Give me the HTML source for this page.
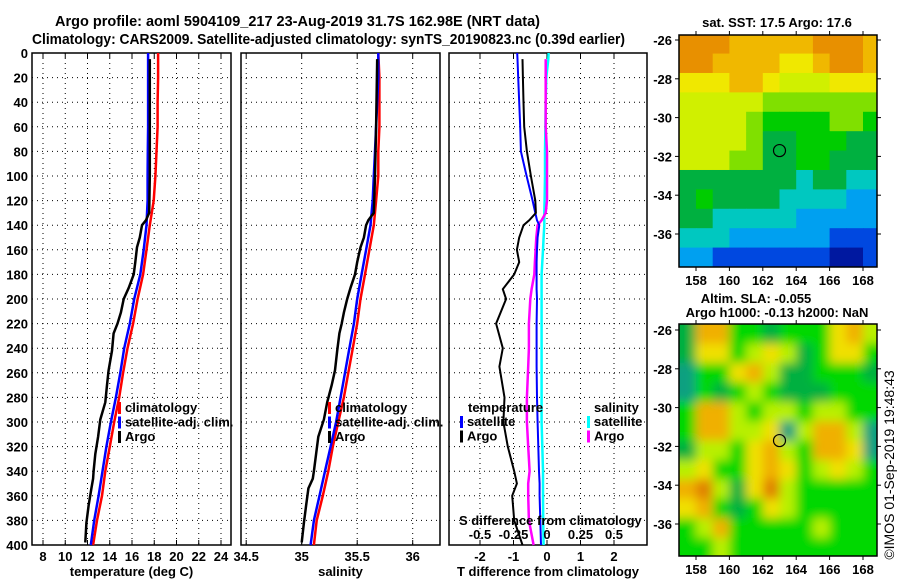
<!DOCTYPE html>
<html><head><meta charset="utf-8"><style>
html,body{margin:0;padding:0;background:#fff}
svg{display:block;font-family:"Liberation Sans",sans-serif}
</style></head><body>
<svg id="root" width="900" height="580" viewBox="0 0 900 580" xmlns="http://www.w3.org/2000/svg">
<defs>
<filter id="blur" x="-5%" y="-5%" width="110%" height="110%"><feGaussianBlur stdDeviation="5"/></filter>
<clipPath id="slaClip"><rect x="679" y="324" width="198" height="232"/></clipPath>
</defs>
<text x="55" y="26" font-size="15" font-weight="bold" textLength="485" lengthAdjust="spacingAndGlyphs">Argo profile: aoml 5904109_217 23-Aug-2019 31.7S 162.98E (NRT data)</text>
<text x="32" y="44" font-size="15" font-weight="bold" textLength="593" lengthAdjust="spacingAndGlyphs">Climatology: CARS2009. Satellite-adjusted climatology: synTS_20190823.nc (0.39d earlier)</text>
<g id="g"></g>
</svg>
<script>
// ---------- data ----------
const depthTicks=[0,20,40,60,80,100,120,140,160,180,200,220,240,260,280,300,320,340,360,380,400];
const tempTicks=[8,10,12,14,16,18,20,22,24];
const salTicks=[34.5,35,35.5,36];
const salTickLabels=['34.5','35','35.5','36'];
const tdiffTicks=[-2,-1,0,1,2];
const sdiffTicks=[-0.5,-0.25,0,0.25,0.5];
const sdiffTickLabels=['-0.5','-0.25','0','0.25','0.5'];

const climDepth=[0,20,40,60,80,100,120,140,160,180,200,220,240,260,280,300,320,340,360,380,400];
const tempClim=[18.35,18.35,18.3,18.3,18.2,18.1,17.95,17.6,17.3,17.0,16.5,16.1,15.6,15.2,14.85,14.4,14.0,13.6,13.3,12.85,12.5];
const tempSat=[17.45,17.45,17.45,17.45,17.42,17.4,17.4,17.3,17.05,16.75,16.2,15.8,15.3,14.95,14.55,14.1,13.7,13.35,13.0,12.6,12.3];
const salClim=[35.69,35.7,35.7,35.7,35.69,35.69,35.67,35.65,35.61,35.57,35.53,35.5,35.46,35.42,35.38,35.33,35.28,35.24,35.19,35.135,35.11];
const salSat=[35.69,35.69,35.68,35.67,35.66,35.65,35.64,35.62,35.58,35.54,35.5,35.47,35.43,35.39,35.35,35.31,35.26,35.21,35.16,35.11,35.08];

const argoDepth=[5,60,100,130,136,140,150,158,170,180,191,200,211,220,228,242,258,270,284,298,312,326,340,346,354,368,382,398];
const tempArgo=[17.6,17.6,17.6,17.55,17.25,16.9,16.7,16.45,16.3,16.15,15.7,15.25,15.0,14.7,14.35,14.2,13.9,13.75,13.6,13.15,12.95,12.7,12.55,12.5,12.35,12.1,11.9,11.8];
const salArgo=[35.68,35.67,35.66,35.65,35.6,35.58,35.56,35.53,35.5,35.48,35.44,35.41,35.38,35.36,35.34,35.32,35.3,35.27,35.23,35.2,35.15,35.13,35.11,35.1,35.06,35.04,35.02,35.0];

const diffDepth=[0,5,20,40,60,80,100,120,130,136,140,150,160,170,180,192,200,220,240,255,280,300,320,340,350,360,380,400];
const tdiffSat=[-0.89,-0.88,-0.86,-0.83,-0.8,-0.78,-0.61,-0.43,-0.35,-0.3,-0.23,-0.28,-0.3,-0.31,-0.31,-0.31,-0.3,-0.31,-0.31,-0.31,-0.3,-0.28,-0.26,-0.24,-0.22,-0.22,-0.2,-0.18];
const tdiffArgo=[null,-0.73,-0.72,-0.7,-0.68,-0.6,-0.48,-0.35,-0.33,-0.53,-0.7,-0.83,-0.9,-0.83,-0.98,-1.32,-1.22,-1.52,-1.32,-1.42,-1.27,-1.3,-1.17,-0.98,-0.9,-1.04,-0.98,-0.73];
const sdiffSat=[0.012,0.01,-0.005,-0.01,-0.012,-0.015,-0.015,-0.018,-0.02,-0.02,-0.02,-0.025,-0.03,-0.035,-0.04,-0.04,-0.04,-0.04,-0.04,-0.04,-0.04,-0.04,-0.035,-0.03,-0.03,-0.03,-0.028,-0.025];
const sdiffArgo=[null,-0.01,-0.01,-0.01,-0.01,0.0,0.0,0.0,-0.01,-0.04,-0.07,-0.08,-0.085,-0.09,-0.095,-0.115,-0.125,-0.135,-0.135,-0.14,-0.15,-0.15,-0.14,-0.13,-0.14,-0.14,-0.135,-0.1];

// maps
const lonTicks=[158,160,162,164,166,168];
const latTicks=[-26,-28,-30,-32,-34,-36];
const sstGrid=[
[10,10,10,9,9,9,9,9,10,10,10,9],
[10,10,9,9,9,9,8,8,9,10,10,9],
[8,8,8,9,9,8,7,7,7,8,8,8],
[7,7,7,7,7,6,6,6,6,6,6,6],
[7,7,7,7,6,5,5,5,5,6,6,5],
[7,7,7,7,6,4,4,5,5,5,4,4],
[7,7,7,6,6,4,4,5,5,4,4,4],
[4,4,4,4,4,4,4,3,4,4,3,3],
[4,5,4,4,4,4,3,3,3,3,2,2],
[4,4,3,3,3,3,3,2,2,2,2,2],
[3,3,3,2,2,2,2,2,2,1,1,1],
[2,2,1,1,1,1,1,1,1,0,0,1]];
const slaGrid=[
[1,5,5,2,2,1,2,2,2,4,5,3],
[1,4,4,2,3,4,3,1,2,4,4,2],
[0,2,2,4,5,3,1,1,2,2,2,1],
[0,2,1,2,3,2,1,1,1,2,2,2],
[2,5,5,3,2,3,3,2,3,3,2,2],
[2,5,5,3,3,4,0,3,5,5,3,0],
[1,3,3,2,4,5,3,2,5,5,4,0],
[3,4,2,2,4,5,4,2,3,4,3,2],
[5,6,3,1,4,6,3,2,2,2,2,2],
[4,5,2,1,2,4,3,2,2,2,2,2],
[2,3,5,2,2,2,2,2,3,2,2,2],
[2,2,3,2,2,2,2,2,2,2,2,2]];
const argoLon=163, argoLat=-31.7;

// ---------- drawing ----------
const NS='http://www.w3.org/2000/svg';
const G=document.getElementById('g');
function el(tag,attrs,parent,txt){const e=document.createElementNS(NS,tag);for(const k in attrs)e.setAttribute(k,attrs[k]);if(txt!==undefined)e.textContent=txt;(parent||G).appendChild(e);return e;}
const Y0=53,Y1=545;
const yD=d=>Y0+(d/400)*(Y1-Y0);
function lin(d0,d1,r0,r1){return v=>r0+(v-d0)/(d1-d0)*(r1-r0);}

function panel(name,x0,x1,xs,ticks,labels,xlabel){
  const g=el('g',{},G);
  
  
  ticks.forEach((t,i)=>{
    const x=xs(t);
    const gl=el('line',{x1:x,x2:x,y1:Y0,y2:Y1,stroke:'#000','stroke-width':1,'stroke-dasharray':'1,4'},g);
    
    
    if(labels){
      const tl=el('text',{x:x,y:Y1+16,'font-size':13,'font-weight':'bold','text-anchor':'middle'},g,labels[i]);
      
      
    }
    el('line',{x1:x,x2:x,y1:Y0,y2:Y0+5,stroke:'#000'},g);
    el('line',{x1:x,x2:x,y1:Y1,y2:Y1-5,stroke:'#000'},g);
  });
  depthTicks.forEach(d=>{
    if(d===0||d===400)return;
    const y=yD(d);
    const gl=el('line',{x1:x0,x2:x1,y1:y,y2:y,stroke:'#000','stroke-width':1,'stroke-dasharray':'1,4'},g);
    
    
  });
  const fr=el('rect',{x:x0,y:Y0,width:x1-x0,height:Y1-Y0,fill:'none',stroke:'#000','stroke-width':1.5},g);
  
  
  if(xlabel){
    const xl=el('text',{x:(x0+x1)/2,y:576,'font-size':13,'font-weight':'bold','text-anchor':'middle'},g,xlabel);
    
    
  }
  return g;
}
function series(g,name,xs,vals,depths,color,w){
  const pts=[];
  vals.forEach((v,i)=>{if(v!==null)pts.push(xs(v).toFixed(1)+','+yD(depths[i]).toFixed(1));});
  const p=el('polyline',{points:pts.join(' '),fill:'none',stroke:color,'stroke-width':w||2.5},g);
  
  
}
function legend(g,x,y,items){
  items.forEach((it,i)=>{
    const yy=y+i*14.5;
    const m=el('rect',{x:x,y:yy-10,width:3,height:12,fill:it[1]},g);
    
    
    const t=el('text',{x:x+7,y:yy,'font-size':13,'font-weight':'bold'},g,it[0]);
    
    
  });
}

// Panel 1: temperature
const xT=lin(8,24,43,221);
const p1=panel('temperature-panel',32,231,xT,tempTicks,tempTicks.map(String),'temperature (deg C)');
depthTicks.forEach(d=>{
  const t=el('text',{x:28,y:yD(d)+5,'font-size':13,'font-weight':'bold','text-anchor':'end'},G,String(d));
  
  
});
series(p1,'temp-climatology-line',xT,tempClim,climDepth,'#f00');
series(p1,'temp-satellite-line',xT,tempSat,climDepth,'#00f');
series(p1,'temp-argo-line',xT,tempArgo,argoDepth,'#000');
legend(p1,118,412,[['climatology','#f00'],['satellite-adj. clim.','#00f'],['Argo','#000']]);

// Panel 2: salinity
const xS=lin(35,36,301.7,412.7);
const p2=panel('salinity-panel',241,440,xS,salTicks,salTickLabels,'salinity');
series(p2,'sal-climatology-line',xS,salClim,climDepth,'#f00');
series(p2,'sal-satellite-line',xS,salSat,climDepth,'#00f');
series(p2,'sal-argo-line',xS,salArgo,argoDepth,'#000');
legend(p2,328,412,[['climatology','#f00'],['satellite-adj. clim.','#00f'],['Argo','#000']]);

// Panel 3: differences
const xTd=lin(-2,2,480,614);
const xSd=lin(-0.5,0.5,480,614);
const p3=panel('difference-panel',449,647,xTd,tdiffTicks,tdiffTicks.map(String),'T difference from climatology');
series(p3,'sdiff-satellite-line',xSd,sdiffSat,diffDepth,'#0ff');
series(p3,'sdiff-argo-line',xSd,sdiffArgo,diffDepth,'#f0f');
series(p3,'tdiff-satellite-line',xTd,tdiffSat,diffDepth,'#00f',2);
series(p3,'tdiff-argo-line',xTd,tdiffArgo,diffDepth,'#000',2);
sdiffTicks.forEach((s,i)=>{
  const t=el('text',{x:xSd(s),y:539,'font-size':13,'font-weight':'bold','text-anchor':'middle'},p3,sdiffTickLabels[i]);
  
  
});
const st=el('text',{x:459,y:525,'font-size':13,'font-weight':'bold'},p3,'S difference from climatology');


const lt=el('text',{x:468,y:412,'font-size':13,'font-weight':'bold'},p3,'temperature');


legend(p3,460,426,[['satellite','#00f'],['Argo','#000']]);
const ls=el('text',{x:594,y:412,'font-size':13,'font-weight':'bold'},p3,'salinity');


legend(p3,587,426,[['satellite','#0ff'],['Argo','#f0f']]);

// Maps
const sstColors=['#0018a0','#0048e0','#00a0f0','#00c8c0','#00b040','#00cc00','#80e000','#d0f000','#f0e800','#f0b800','#e89000'];
const slaColors=['#10a080','#00b040','#00d800','#b8f000','#f0e000','#f0b000','#e08000'];
function mapPanel(name,grid,colors,yTop,yLat26,smooth){
  const g=el('g',{},G);
  
  
  const x0=679,x1=877;
  const xL=lin(158,168,696,863);
  const yL=lin(-26,-36,yLat26,yLat26+194);
  const yBot=yTop+232;
  let cg=g;
  if(smooth){
    const clip=el('g',{'clip-path':'url(#slaClip)'},g);
    el('rect',{x:x0,y:yTop,width:x1-x0,height:yBot-yTop,fill:colors[2]},clip);
    cg=el('g',{filter:'url(#blur)'},clip);
  }
  const lat0=-25.7, lon0=157, dLat=12/grid.length, dLon=12/grid[0].length;
  grid.forEach((row,r)=>row.forEach((v,c)=>{
    let xa=xL(lon0+c*dLon), xb=xL(lon0+(c+1)*dLon);
    let ya=yL(lat0-r*dLat), yb=yL(lat0-(r+1)*dLat);
    if(!smooth){xa=Math.max(x0,xa);xb=Math.min(x1,xb);ya=Math.max(yTop,ya);yb=Math.min(yBot,yb);}
    else{ if(c===0)xa-=12; if(c===row.length-1)xb+=12; if(r===0)ya-=12; if(r===grid.length-1)yb+=12; }
    const cell=el('rect',{x:xa,y:ya,width:xb-xa+0.5,height:yb-ya+0.5,fill:colors[v]},cg);
    
    
  }));
  const fr=el('rect',{x:x0,y:yTop,width:x1-x0,height:yBot-yTop,fill:'none',stroke:'#000','stroke-width':1.5},g);
  
  
  lonTicks.forEach(l=>{
    const x=xL(l);
    el('line',{x1:x,x2:x,y1:yBot,y2:yBot+4,stroke:'#000'},g);
    el('line',{x1:x,x2:x,y1:yTop,y2:yTop-4,stroke:'#000'},g);
    const t=el('text',{x:x,y:yBot+18,'font-size':13,'font-weight':'bold','text-anchor':'middle'},g,String(l));
    
    
  });
  latTicks.forEach(l=>{
    const y=yL(l);
    el('line',{x1:x0,x2:x0-4,y1:y,y2:y,stroke:'#000'},g);
    el('line',{x1:x1,x2:x1+4,y1:y,y2:y,stroke:'#000'},g);
    const t=el('text',{x:672,y:y+5,'font-size':13,'font-weight':'bold','text-anchor':'end'},g,String(l));
    
    
  });
  const c=el('circle',{cx:xL(argoLon),cy:yL(argoLat),r:6,fill:'none',stroke:'#000','stroke-width':1.2},g);
  
  
  return g;
}
mapPanel('sst-map',sstGrid,sstColors,35,40,false);
mapPanel('sla-map',slaGrid,slaColors,324,330,true);
const t1=el('text',{x:777,y:27,'font-size':13,'font-weight':'bold','text-anchor':'middle'},G,'sat. SST: 17.5 Argo: 17.6');


const t2=el('text',{x:756,y:303,'font-size':13,'font-weight':'bold','text-anchor':'middle'},G,'Altim. SLA: -0.055');


const t3=el('text',{x:777,y:317,'font-size':13,'font-weight':'bold','text-anchor':'middle'},G,'Argo h1000: -0.13 h2000: NaN');


const cr=el('text',{x:0,y:0,'font-size':14,'text-anchor':'middle',transform:'translate(894,465) rotate(-90)'},G,'©IMOS 01-Sep-2019 19:48:43');


</script>
</body></html>
